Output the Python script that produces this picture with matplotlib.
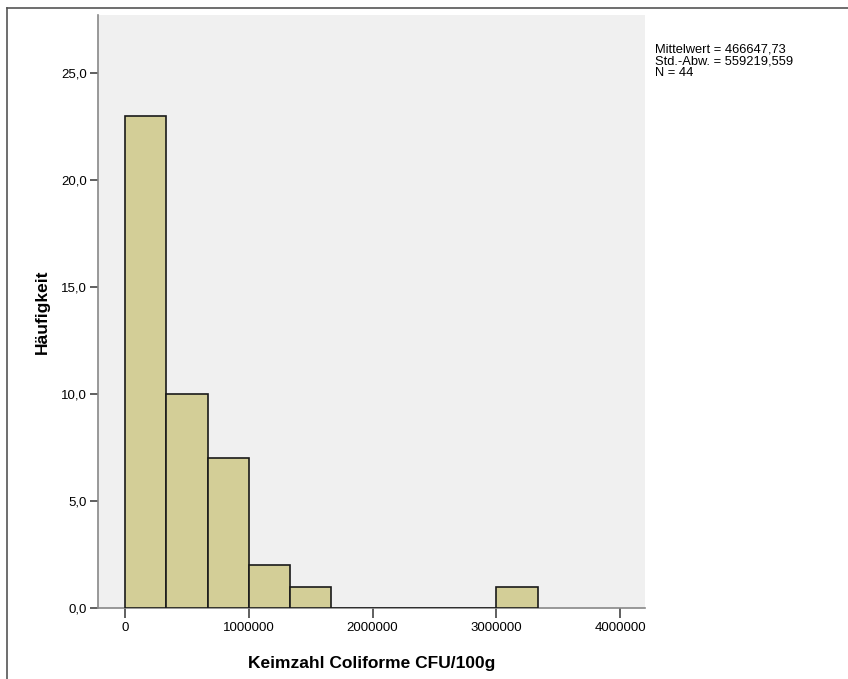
import matplotlib.pyplot as plt, numpy as np
from matplotlib.lines import Line2D

# histogram bins (width 1/3 million), counts per bin
bin_width = 1e6 / 3
counts    = [23, 10, 7, 2, 1, 0, 0, 0, 0, 1]
edges     = np.arange(len(counts)) * bin_width
yticks    = [0, 5, 10, 15, 20, 25]
xticks    = [0, 1000000, 2000000, 3000000, 4000000]
stats     = ['Mittelwert = 466647,73', 'Std.-Abw. = 559219,559', 'N = 44']

plt.rcParams['font.family'] = ['Liberation Sans', 'DejaVu Sans']

fig = plt.figure(figsize=(8.48, 6.79), dpi=100)
W, H = 848, 679
ax = fig.add_axes([98/W, 1 - 608/H, (645-98)/W, (608-15)/H])
ax.set_facecolor('#f0f0f0')

ax.bar(edges, counts, width=bin_width, align='edge',
       color='#d3ce97', edgecolor='#1a1a1a', linewidth=1.2, zorder=3)

ax.set_xlim(-218000, 4200000)
ax.set_ylim(0, 27.7)
ax.set_yticks(yticks)
ax.set_yticklabels([f'{v:.1f}'.replace('.', ',') for v in yticks], fontsize=9.5)
ax.set_xticks(xticks)
ax.set_xticklabels([str(v) for v in xticks], fontsize=9.5)
ax.tick_params(axis='y', direction='out', length=6, width=1.2, color='#444444', pad=2)
ax.tick_params(axis='x', direction='out', length=7, width=1.2, color='#444444', pad=3)

for s in ['top', 'right']:
    ax.spines[s].set_visible(False)
for s in ['left', 'bottom']:
    ax.spines[s].set_color('#888888')
    ax.spines[s].set_linewidth(1.2)

ax.set_xlabel('Keimzahl Coliforme CFU/100g', fontsize=12.5, fontweight='bold', labelpad=16)
ax.set_ylabel('Häufigkeit', fontsize=12.5, fontweight='bold', labelpad=8)

fig.text(655/W, 1 - 43/H, '\n'.join(stats), fontsize=9.3, va='top', ha='left',
         linespacing=1.0)

# outer frame lines (top and left)
fig.add_artist(Line2D([7/W, 1], [1 - 8/H, 1 - 8/H], color='#555555', lw=1.2))
fig.add_artist(Line2D([7/W, 7/W], [0, 1 - 8/H], color='#555555', lw=1.2))

fig.savefig('out.png', dpi=100)
